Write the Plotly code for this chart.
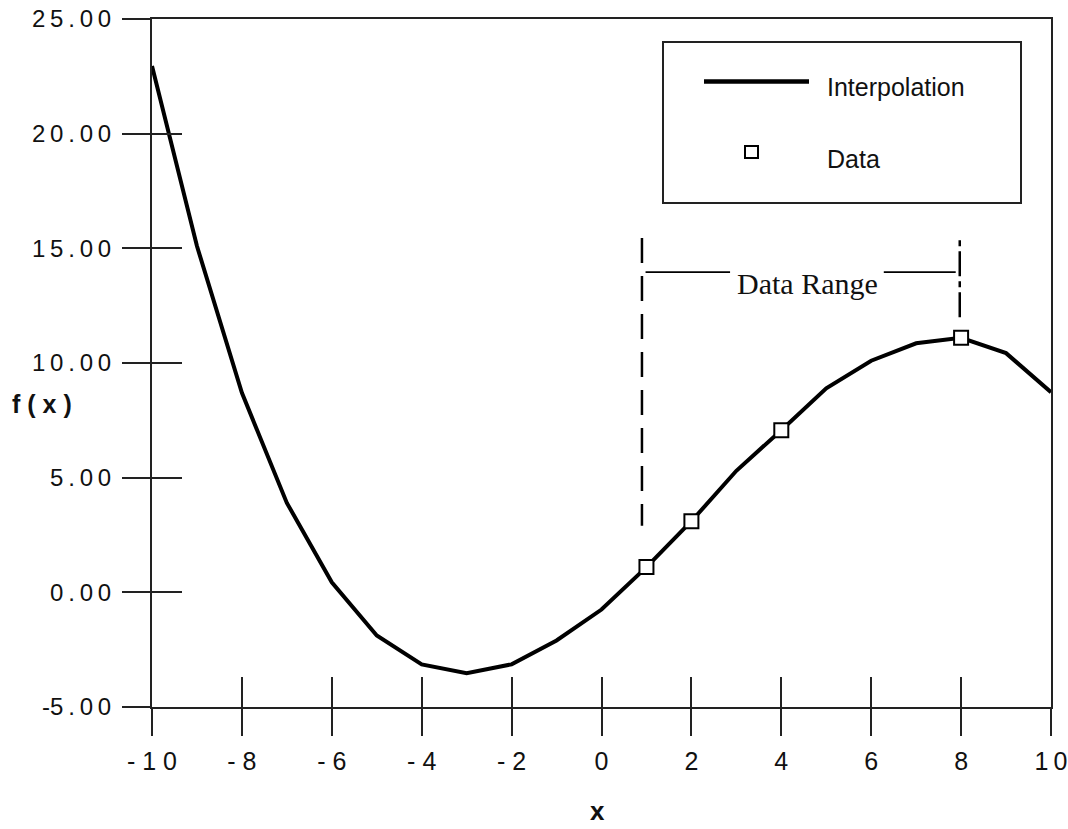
import plotly.graph_objects as go

# Interpolating polynomial sampled on the integers, and the fitted data points
x_interp = [-10, -9, -8, -7, -6, -5, -4, -3, -2, -1, 0, 1, 2, 3, 4, 5, 6, 7, 8, 9, 10]
f_interp = [22.95, 15.1, 8.7, 3.9, 0.44, -1.88, -3.14, -3.53, -3.14, -2.1, -0.75,
            1.1, 3.1, 5.3, 7.07, 8.9, 10.1, 10.86, 11.1, 10.43, 8.73]
x_data = [1, 2, 4, 8]
f_data = [1.1, 3.1, 7.07, 11.1]

x_tickvals = [-10, -8, -6, -4, -2, 0, 2, 4, 6, 8, 10]
x_ticktext = ["- 1 0", "- 8", "- 6", "- 4", "- 2", "0", "2", "4", "6", "8", "1\u20090"]
y_tickvals = [-5, 0, 5, 10, 15, 20, 25]
y_ticktext = ["-5\u2009.\u20090\u20090", "0\u2009.\u20090\u20090", "5\u2009.\u20090\u20090",
              "1\u20090\u2009.\u20090\u20090", "1\u20095\u2009.\u20090\u20090",
              "2\u20090\u2009.\u20090\u20090", "2\u20095\u2009.\u20090\u20090"]

# Data range markers
range_lo, range_hi = 0.9, 7.97
range_bar_y = 13.96

W, H = 1068, 829
ML, MR, MT, MB = 152, 17, 19, 122
PW, PH = W - ML - MR, H - MT - MB


def px_x(p):
    return (p - ML) / PW


def px_y(p):
    return (H - MB - p) / PH


SANS = "Liberation Sans, Arial, sans-serif"
SERIF = "Liberation Serif, Times New Roman, serif"
INK = "#111111"

fig = go.Figure()

fig.add_trace(go.Scatter(
    x=x_interp, y=f_interp, mode="lines", name="Interpolation",
    line=dict(color="black", width=4), showlegend=False, hoverinfo="skip",
    xaxis="x", yaxis="y",
))
fig.add_trace(go.Scatter(
    x=x_data, y=f_data, mode="markers", name="Data",
    marker=dict(symbol="square", size=14, color="white",
                line=dict(color="black", width=2)),
    showlegend=False, xaxis="x2", yaxis="y2",
))

axis_common = dict(showgrid=False, zeroline=False, tickwidth=2, tickcolor="#222222",
                   automargin=False)

fig.update_layout(
    width=W, height=H,
    margin=dict(l=ML, r=MR, t=MT, b=MB, autoexpand=False),
    paper_bgcolor="white", plot_bgcolor="white",
    showlegend=False,
    xaxis=dict(range=[-10, 10], tickvals=x_tickvals, ticktext=x_ticktext,
               ticks="outside", ticklen=27, showline=True, linewidth=2,
               linecolor="#222222", mirror=True, ticklabelstandoff=4,
               tickfont=dict(family=SANS, size=25, color=INK), **axis_common),
    yaxis=dict(range=[-5, 25], tickvals=y_tickvals, ticktext=y_ticktext,
               ticks="outside", ticklen=28, showline=True, linewidth=2,
               linecolor="#222222", mirror=True, ticklabelstandoff=6,
               tickfont=dict(family=SANS, size=24, color=INK), **axis_common),
    xaxis2=dict(range=[-10, 10], tickvals=x_tickvals, ticks="inside", ticklen=30,
                showticklabels=False, showline=False, overlaying="x", anchor="y2",
                **axis_common),
    yaxis2=dict(range=[-5, 25], tickvals=y_tickvals, ticks="inside", ticklen=30,
                showticklabels=False, showline=False, overlaying="y", anchor="x2",
                **axis_common),
)

shapes = [
    # dashed marker at the low end of the data range
    dict(type="line", xref="x", yref="y", x0=range_lo, x1=range_lo, y0=15.45, y1=2.9,
         line=dict(color="black", width=2.5, dash="25px,13px")),
    # dash-dot marker at the high end
    dict(type="line", xref="x", yref="y", x0=range_hi, x1=range_hi, y0=12.0, y1=15.55,
         line=dict(color="black", width=2.5, dash="25px,5px,6px,5px")),
    # bar connecting the two, broken around the label
    dict(type="line", xref="x", yref="y", x0=0.98, x1=2.86, y0=range_bar_y, y1=range_bar_y,
         line=dict(color="black", width=1.8)),
    dict(type="line", xref="x", yref="y", x0=6.28, x1=7.88, y0=range_bar_y, y1=range_bar_y,
         line=dict(color="black", width=1.8)),
    # legend frame and keys
    dict(type="rect", xref="paper", yref="paper", x0=px_x(663), x1=px_x(1021),
         y0=px_y(203), y1=px_y(42), line=dict(color="#222222", width=2),
         fillcolor="white", layer="below"),
    dict(type="line", xref="paper", yref="paper", x0=px_x(704), x1=px_x(809),
         y0=px_y(81.5), y1=px_y(81.5), line=dict(color="black", width=4.5)),
    dict(type="rect", xref="paper", yref="paper", x0=px_x(745), x1=px_x(758),
         y0=px_y(158), y1=px_y(146), line=dict(color="black", width=2),
         fillcolor="white"),
]
fig.update_layout(shapes=shapes)

annotations = [
    dict(text="Data Range", xref="x", yref="y", x=4.59, y=13.45, showarrow=False,
         font=dict(family=SERIF, size=30, color=INK), xanchor="center", yanchor="middle"),
    dict(text="Interpolation", xref="paper", yref="paper", x=px_x(825), y=px_y(87),
         showarrow=False, font=dict(family=SANS, size=25, color=INK),
         xanchor="left", yanchor="middle"),
    dict(text="Data", xref="paper", yref="paper", x=px_x(825), y=px_y(159),
         showarrow=False, font=dict(family=SANS, size=25, color=INK),
         xanchor="left", yanchor="middle"),
    dict(text="<b>f ( x )</b>", xref="paper", yref="paper", x=px_x(10), y=px_y(404),
         showarrow=False, font=dict(family=SANS, size=25, color=INK),
         xanchor="left", yanchor="middle"),
    dict(text="<b>x</b>", xref="paper", yref="paper", x=px_x(597), y=px_y(811),
         showarrow=False, font=dict(family=SANS, size=26, color=INK),
         xanchor="center", yanchor="middle"),
]
fig.update_layout(annotations=annotations)

fig.write_html("out.html")
